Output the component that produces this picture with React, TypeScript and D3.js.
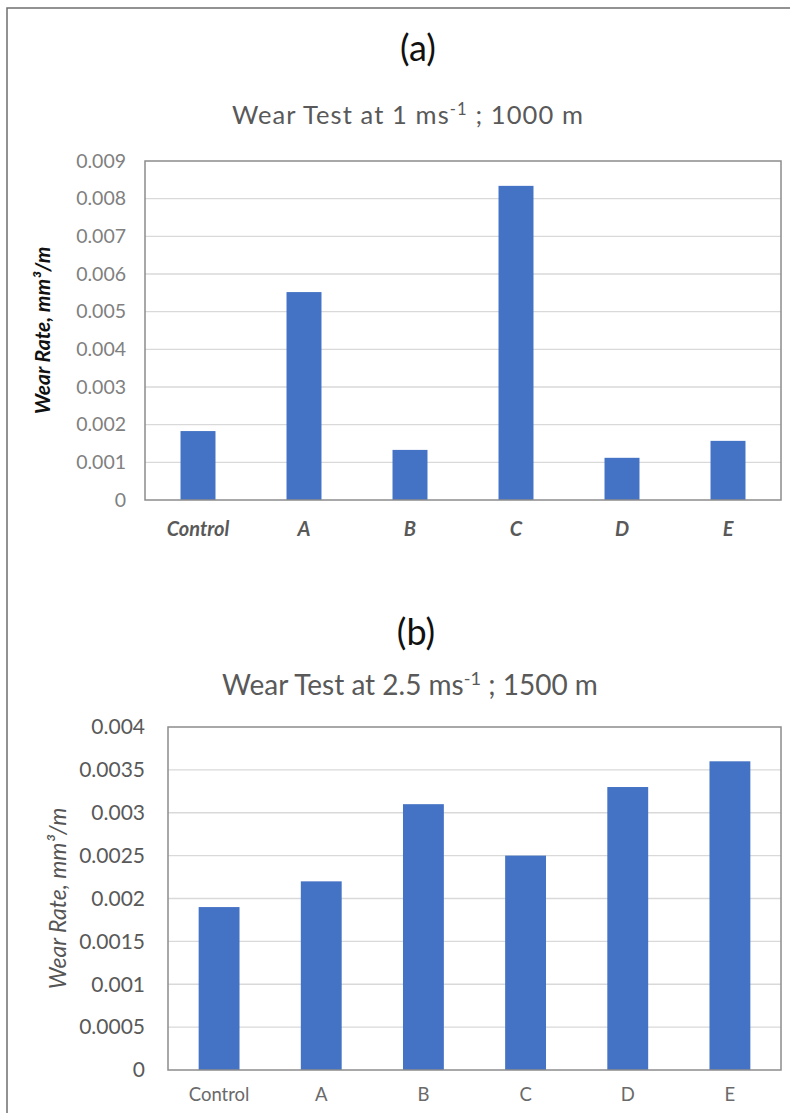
import React, { useEffect, useRef } from 'react';
import * as d3 from 'd3';

const categories = ['Control', 'A', 'B', 'C', 'D', 'E'];
const wearRateA = [0.00183, 0.00552, 0.00133, 0.00834, 0.00112, 0.00157];
const wearRateB = [0.0019, 0.0022, 0.0031, 0.0025, 0.0033, 0.0036];
const ticksA = [0, 0.001, 0.002, 0.003, 0.004, 0.005, 0.006, 0.007, 0.008, 0.009];
const ticksB = [0, 0.0005, 0.001, 0.0015, 0.002, 0.0025, 0.003, 0.0035, 0.004];

const BAR = '#4472C4';
const FONT = 'Lato, "Open Sans", sans-serif';

interface PanelOpts {
  values: number[];
  ticks: number[];
  left: number;
  top: number;
  right: number;
  bottom: number;
  padding: number;
  tickSize: number;
  tickX: number;
  tickColor: string;
  labelY: number;
  labelSize: number;
  labelStyle: { weight: string; italic: boolean };
  yTitleX: number;
  yTitleSize: number;
  yTitleWeight: string;
}

const drawPanel = (svg: d3.Selection<SVGSVGElement, unknown, null, undefined>, o: PanelOpts) => {
  const x = d3.scaleBand<string>()
    .domain(categories)
    .range([o.left, o.right])
    .paddingInner(o.padding)
    .paddingOuter(o.padding / 2);
  const y = d3.scaleLinear()
    .domain([0, o.ticks[o.ticks.length - 1]])
    .range([o.bottom, o.top]);

  const g = svg.append('g');

  // gridlines
  g.selectAll('line.grid')
    .data(o.ticks.slice(1, -1))
    .join('line')
    .attr('x1', o.left)
    .attr('x2', o.right)
    .attr('y1', (d) => y(d))
    .attr('y2', (d) => y(d))
    .attr('stroke', '#d9d9d9')
    .attr('stroke-width', 1.3);

  // bars
  g.selectAll('rect.bar')
    .data(o.values)
    .join('rect')
    .attr('x', (_, i) => x(categories[i]) as number)
    .attr('width', x.bandwidth())
    .attr('y', (d) => y(d))
    .attr('height', (d) => o.bottom - y(d))
    .attr('fill', BAR);

  // plot border
  g.append('rect')
    .attr('x', o.left)
    .attr('y', o.top)
    .attr('width', o.right - o.left)
    .attr('height', o.bottom - o.top)
    .attr('fill', 'none')
    .attr('stroke', '#8c8c8c')
    .attr('stroke-width', 1.5);

  // y tick labels
  g.selectAll('text.ytick')
    .data(o.ticks)
    .join('text')
    .attr('x', o.tickX)
    .attr('y', (d) => y(d))
    .attr('dy', '0.35em')
    .attr('text-anchor', 'end')
    .attr('font-family', FONT)
    .attr('font-size', o.tickSize)
    .attr('fill', o.tickColor)
    .text((d) => (d === 0 ? '0' : String(d)));

  // x labels
  g.selectAll('text.xlab')
    .data(categories)
    .join('text')
    .attr('x', (d) => (x(d) as number) + x.bandwidth() / 2)
    .attr('y', o.labelY)
    .attr('dy', '0.35em')
    .attr('text-anchor', 'middle')
    .attr('font-family', FONT)
    .attr('font-size', o.labelSize)
    .attr('font-weight', o.labelStyle.weight)
    .attr('font-style', o.labelStyle.italic ? 'italic' : 'normal')
    .attr('fill', o.labelStyle.weight === 'bold' ? '#595959' : '#6a6a6a')
    .text((d) => d);

  // y title
  g.append('text')
    .attr('transform', `translate(${o.yTitleX},${(o.top + o.bottom) / 2}) rotate(-90)`)
    .attr('dy', '0.35em')
    .attr('text-anchor', 'middle')
    .attr('font-family', FONT)
    .attr('font-size', o.yTitleSize)
    .attr('font-weight', o.yTitleWeight)
    .attr('font-style', 'italic')
    .attr('fill', o.yTitleWeight === 'bold' ? '#111' : '#555')
    .text('Wear Rate, mm³/m');
};

const addTitle = (
  svg: d3.Selection<SVGSVGElement, unknown, null, undefined>,
  cx: number,
  cy: number,
  size: number,
  spacing: number,
  speed: string,
  dist: string,
) => {
  const t = svg.append('text')
    .attr('x', cx)
    .attr('y', cy)
    .attr('dy', '0.35em')
    .attr('text-anchor', 'middle')
    .attr('font-family', FONT)
    .attr('font-size', size)
    .attr('letter-spacing', spacing)
    .attr('fill', '#595959');
  t.append('tspan').text(`Wear Test at ${speed} ms`);
  t.append('tspan').attr('dy', -size * 0.35).attr('font-size', size * 0.65).text('-1');
  t.append('tspan').attr('dy', size * 0.35).text(` ; ${dist} m`);
};

const App: React.FC = () => {
  const svgRef = useRef<SVGSVGElement | null>(null);

  useEffect(() => {
    if (!svgRef.current) return;
    const svg = d3.select(svgRef.current);
    svg.selectAll('*').remove();

    svg.append('rect')
      .attr('x', 0).attr('y', 0).attr('width', 790).attr('height', 1113)
      .attr('fill', '#fff');

    // outer frame
    svg.append('rect')
      .attr('x', 7).attr('y', 8).attr('width', 800).attr('height', 1130)
      .attr('fill', 'none')
      .attr('stroke', '#6f6f6f')
      .attr('stroke-width', 1.5);

    svg.append('text')
      .attr('x', 418).attr('y', 48).attr('dy', '0.35em')
      .attr('text-anchor', 'middle')
      .attr('font-family', FONT).attr('font-size', 36).attr('fill', '#111')
      .text('(a)');
    addTitle(svg, 408, 115, 25.5, 1.1, '1', '1000');

    drawPanel(svg, {
      values: wearRateA,
      ticks: ticksA,
      left: 145, top: 161, right: 781, bottom: 500,
      padding: 0.67,
      tickSize: 19.5,
      tickX: 126,
      tickColor: '#808080',
      labelY: 529,
      labelSize: 20,
      labelStyle: { weight: 'bold', italic: true },
      yTitleX: 43,
      yTitleSize: 21,
      yTitleWeight: 'bold',
    });

    svg.append('text')
      .attr('x', 416).attr('y', 632).attr('dy', '0.35em')
      .attr('text-anchor', 'middle')
      .attr('font-family', FONT).attr('font-size', 36).attr('fill', '#111')
      .text('(b)');
    addTitle(svg, 410, 685, 28, 0, '2.5', '1500');

    drawPanel(svg, {
      values: wearRateB,
      ticks: ticksB,
      left: 168, top: 727, right: 781, bottom: 1070,
      padding: 0.6,
      tickSize: 21,
      tickX: 145,
      tickColor: '#595959',
      labelY: 1095,
      labelSize: 18.5,
      labelStyle: { weight: 'normal', italic: false },
      yTitleX: 58,
      yTitleSize: 23,
      yTitleWeight: 'normal',
    });
  }, []);

  return (
    <svg
      ref={svgRef}
      width={790}
      height={1113}
      style={{ position: 'absolute', left: 0, top: 0, display: 'block' }}
    />
  );
};

export default App;
